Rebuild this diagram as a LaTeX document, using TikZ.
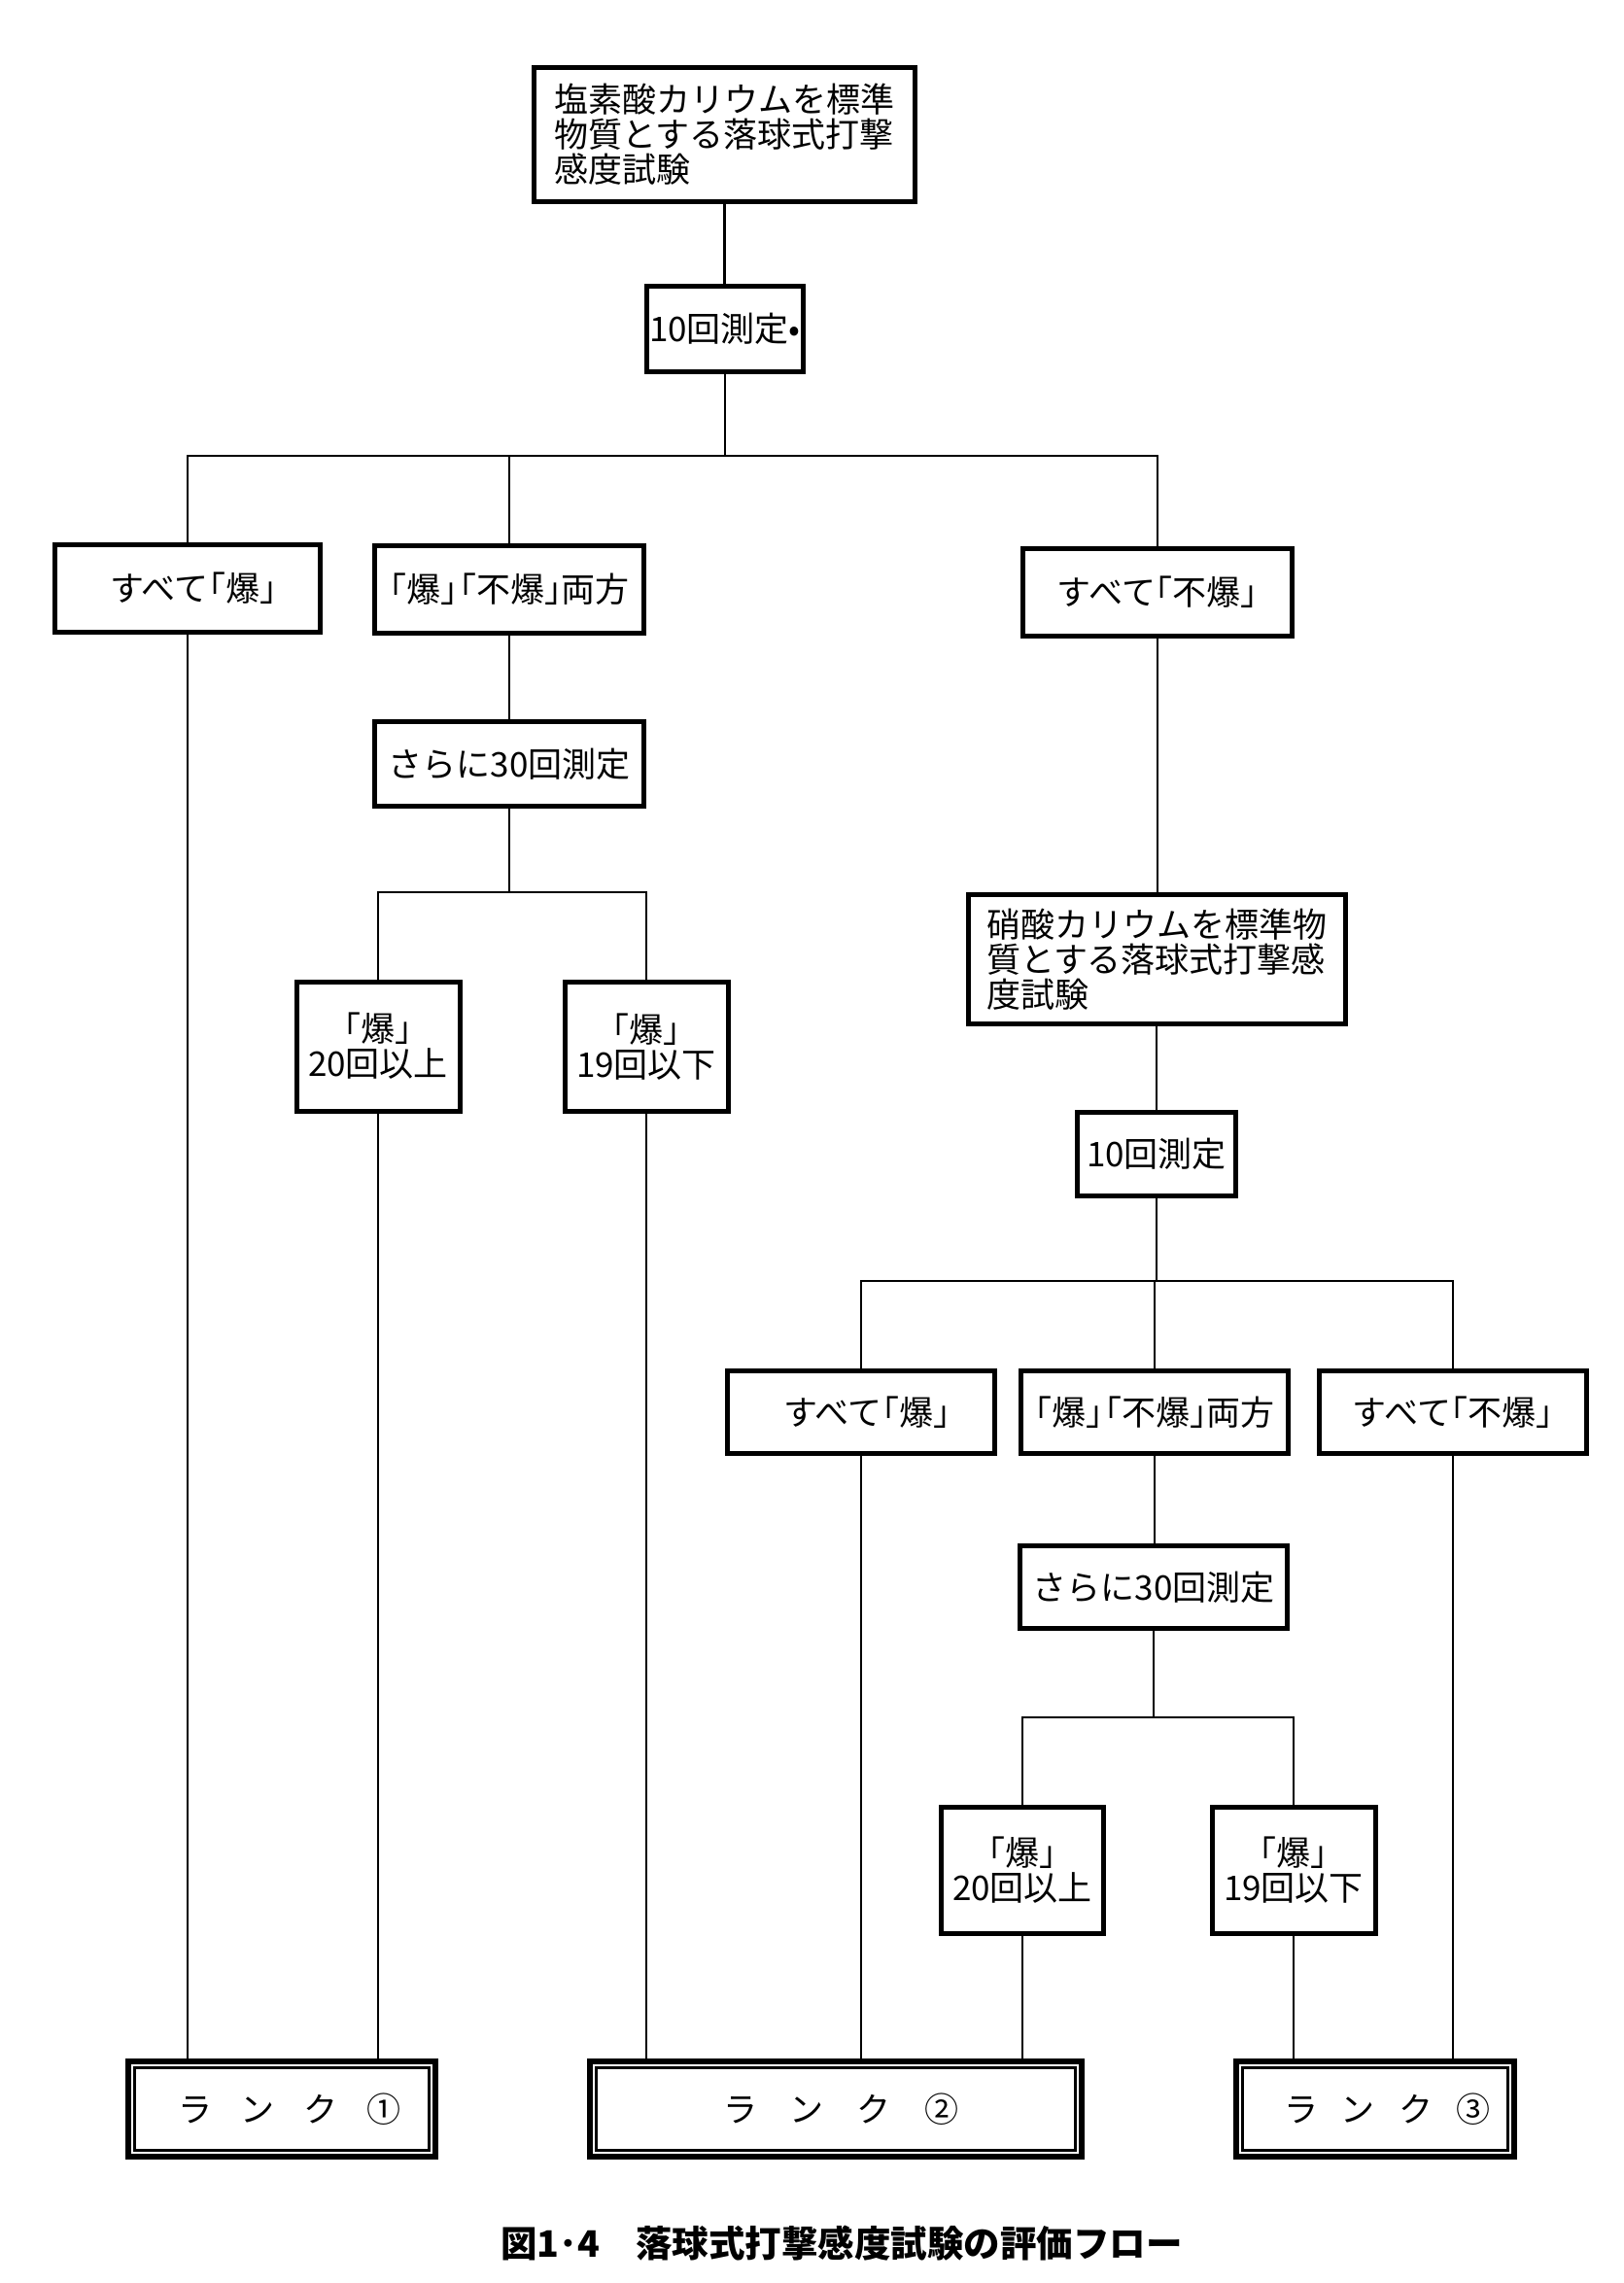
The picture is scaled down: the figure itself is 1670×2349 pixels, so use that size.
\documentclass[tikz,border=0pt]{standalone}
\usepackage{fontspec}
\newfontfamily\jp[RawFeature=+halt]{Noto Sans CJK JP}
\newfontfamily\jpn{Noto Sans CJK JP}
\begin{document}
\begin{tikzpicture}[x=0.5pt,y=-0.5pt,
  box/.style={draw, line width=2.5pt, inner sep=0pt, font=\jp\fontsize{17.5pt}{18pt}\selectfont},
  rankbox/.style={draw, line width=3pt, inner sep=0pt, minimum height=49pt, font=\jp\fontsize{17.5pt}{18pt}\selectfont},
  inner/.style={line width=1.4pt},
  conn/.style={line width=1.4pt}]
\useasboundingbox (0,0) rectangle (1670,2349);
\fill[white] (0,0) rectangle (1670,2349);

% top chain
\node[box, minimum width=196pt, minimum height=69pt, align=left] (T) at (745.5,138.5) {塩素酸カリウムを標準\\物質とする落球式打撃\\感度試験};
\node[box, minimum width=80.5pt, minimum height=44pt] (M1) at (746,338.5) {10回測定•};
\coordinate (J1) at (746,469);

\node[box, minimum width=136.5pt, minimum height=45pt] (A1) at (193,605) {\hspace{6pt}すべて「爆」};
\node[box, minimum width=138.5pt, minimum height=45pt] (A2) at (524,606) {「爆」\hspace{1pt}「不爆」両方};
\node[box, minimum width=138.5pt, minimum height=45pt] (A3) at (1191,609) {すべて「不爆」};

\node[box, minimum width=138.5pt, minimum height=43.5pt] (L30) at (524,786) {さらに30回測定};
\coordinate (J2) at (524,918);
\node[box, minimum width=84pt, minimum height=66.5pt, align=center] (L20) at (389,1076.5) {「爆」\\20回以上};
\node[box, minimum width=84pt, minimum height=66.5pt, align=center] (L19) at (665,1077) {「爆」\\19回以下};

\node[box, minimum width=194pt, minimum height=66.5pt, align=left] (K) at (1190,987) {硝酸カリウムを標準物\\質とする落球式打撃感\\度試験};
\node[box, minimum width=81.5pt, minimum height=43pt] (M2) at (1190,1187.5) {10回測定};
\coordinate (J3) at (1190,1318);

\node[box, minimum width=137.5pt, minimum height=42.5pt] (B1) at (886,1453) {\hspace{6pt}すべて「爆」};
\node[box, minimum width=137.5pt, minimum height=42.5pt] (B2) at (1188,1453) {「爆」\hspace{1pt}「不爆」両方};
\node[box, minimum width=137.5pt, minimum height=42.5pt] (B3) at (1495,1453) {すべて「不爆」};

\node[box, minimum width=137.5pt, minimum height=42.5pt] (R30) at (1187,1633) {さらに30回測定};
\coordinate (J4) at (1187,1767);
\node[box, minimum width=83.5pt, minimum height=65pt, align=center] (R20) at (1052,1924.5) {「爆」\\20回以上};
\node[box, minimum width=84pt, minimum height=65pt, align=center] (R19) at (1331,1924.5) {「爆」\\19回以下};

% rank boxes
\node[rankbox, minimum width=158pt] (RK1) at (290,2170) {\hspace{8pt}ラ\hspace{15pt}ン\hspace{15pt}ク\hspace{15pt}①};
\node[rankbox, minimum width=253pt] (RK2) at (860,2170) {\hspace{5pt}ラ\hspace{17pt}ン\hspace{17pt}ク\hspace{17pt}②};
\node[rankbox, minimum width=143pt] (RK3) at (1415,2170) {\hspace{12pt}ラ\hspace{12pt}ン\hspace{12pt}ク\hspace{12pt}③};
\foreach \r in {RK1,RK2,RK3}{
  \draw[inner] ([shift={(4.6pt,-4.6pt)}]\r.north west) rectangle ([shift={(-4.6pt,4.6pt)}]\r.south east);
}

% connectors
\draw[conn] (T.south) -- (T.south |- M1.north);
\draw[conn] (M1.south) -- (J1);
\draw[conn] (A1.north) -- (A1.north |- J1) -- (A3.north |- J1) -- (A3.north);
\draw[conn] (A2.north) -- (A2.north |- J1);

\draw[conn] (A2.south) -- (A2.south |- L30.north);
\draw[conn] (L30.south) -- (J2);
\draw[conn] (L20.north) -- (L20.north |- J2) -- (L19.north |- J2) -- (L19.north);

\draw[conn] (A3.south) -- (A3.south |- K.north);
\draw[conn] (K.south) -- (K.south |- M2.north);
\draw[conn] (M2.south) -- (J3);
\draw[conn] (B1.north) -- (B1.north |- J3) -- (B3.north |- J3) -- (B3.north);
\draw[conn] (B2.north) -- (B2.north |- J3);

\draw[conn] (B2.south) -- (B2.south |- R30.north);
\draw[conn] (R30.south) -- (J4);
\draw[conn] (R20.north) -- (R20.north |- J4) -- (R19.north |- J4) -- (R19.north);

\draw[conn] (A1.south) -- (A1.south |- RK1.north);
\draw[conn] (L20.south) -- (L20.south |- RK1.north);
\draw[conn] (L19.south) -- (L19.south |- RK2.north);
\draw[conn] (B1.south) -- (B1.south |- RK2.north);
\draw[conn] (R20.south) -- (R20.south |- RK2.north);
\draw[conn] (R19.south) -- (R19.south |- RK3.north);
\draw[conn] (B3.south) -- (B3.south |- RK3.north);

% caption
\node[font=\jpn\bfseries\fontsize{18.75pt}{20pt}\selectfont] (cap) at (866,2308) {図1･4\hspace{1em}落球式打撃感度試験の評価フロー};
\end{tikzpicture}
\end{document}
